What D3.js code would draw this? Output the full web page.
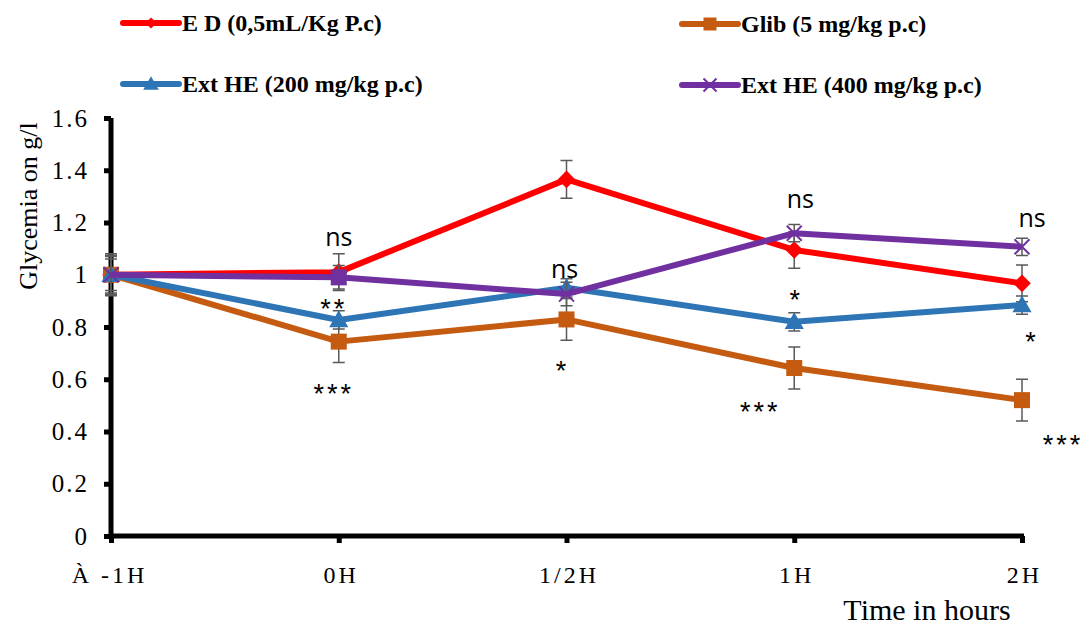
<!DOCTYPE html>
<html><head><meta charset="utf-8">
<script src="https://cdn.jsdelivr.net/npm/d3@7"></script>
<style>body{margin:0;background:#fff}svg{display:block}</style>
</head><body>
<svg id="c" width="1083" height="625"></svg>
<script>
const categories = ["À -1H", "0H", "1/2H", "1H", "2H"];
const yTicks = [0, 0.2, 0.4, 0.6, 0.8, 1, 1.2, 1.4, 1.6];
const seriesNames = ["E D (0,5mL/Kg P.c)", "Glib (5 mg/kg p.c)", "Ext HE (200 mg/kg p.c)", "Ext HE (400 mg/kg p.c)"];
const edValues    = [1.0, 1.01, 1.365, 1.095, 0.967];
const edErrors    = [0.07, 0.07, 0.072, 0.07, 0.07];
const glibValues  = [1.0, 0.744, 0.829, 0.643, 0.52];
const glibErrors  = [0.08, 0.08, 0.08, 0.08, 0.08];
const he200Values = [1.0, 0.827, 0.95, 0.82, 0.884];
const he200Errors = [0.06, 0.035, 0.035, 0.035, 0.035];
const he400Values = [1.0, 0.99, 0.926, 1.159, 1.107];
const he400Errors = [0.075, 0.045, 0.045, 0.033, 0.033];
const he400Shapes = ["x", "square", "x", "x", "x"];
const annoLabels = ["ns", "**", "***", "ns", "*", "ns", "*", "***", "ns", "*", "***"];
const annoCats   = ["0H", "0H", "0H", "1/2H", "1/2H", "1H", "1H", "1H", "2H", "2H", "2H"];
const annoLevels = [1.15, 0.895, 0.57, 1.025, 0.66, 1.295, 0.93, 0.5, 1.22, 0.77, 0.375];
const annoShift  = [0, -5, -5, -2, -4, 6, 2, -34, 10, 10, 41];

const svg = d3.select("#c");
const x = d3.scalePoint().domain(categories).range([111, 1022]).padding(0);
const y = d3.scaleLinear().domain([0, 1.6]).range([536, 118]);
const serif = "'Liberation Serif', 'Times New Roman', serif";

const colors = ["#FF0000", "#C55A11", "#2E75B6", "#7030A0"];
const series = [
  {name: seriesNames[0], values: edValues, errors: edErrors, color: colors[0], shapes: categories.map(() => "diamond")},
  {name: seriesNames[1], values: glibValues, errors: glibErrors, color: colors[1], shapes: categories.map(() => "square")},
  {name: seriesNames[2], values: he200Values, errors: he200Errors, color: colors[2], shapes: categories.map(() => "triangle")},
  {name: seriesNames[3], values: he400Values, errors: he400Errors, color: colors[3], shapes: he400Shapes}
];

function drawMarker(g, shape, cx, cy, color, size) {
  if (shape === "diamond") {
    const s = size * 0.55;
    g.append("path").attr("d", `M${cx},${cy - s}L${cx + s},${cy}L${cx},${cy + s}L${cx - s},${cy}Z`).attr("fill", color);
  } else if (shape === "square") {
    const s = size / 2;
    g.append("rect").attr("x", cx - s).attr("y", cy - s).attr("width", size).attr("height", size).attr("fill", color);
  } else if (shape === "triangle") {
    const s = size * 0.6;
    g.append("path").attr("d", `M${cx},${cy - s}L${cx + s},${cy + s * 0.75}L${cx - s},${cy + s * 0.75}Z`).attr("fill", color);
  } else if (shape === "x") {
    const s = size / 2;
    g.append("path").attr("d", `M${cx - s},${cy - s}L${cx + s},${cy + s}M${cx + s},${cy - s}L${cx - s},${cy + s}`)
      .attr("stroke", color).attr("stroke-width", 2).attr("fill", "none");
  }
}

// axes
const yAxis = d3.axisLeft(y).tickValues(yTicks).tickSize(7).tickFormat(d => d3.format("")(d));
const yg = svg.append("g").attr("transform", "translate(111,0)").call(yAxis);
yg.select(".domain").attr("stroke", "#000").attr("stroke-width", 5).attr("d", `M0,${y(1.6)}V${y(0)}`);
yg.selectAll(".tick line").attr("stroke", "#000").attr("stroke-width", 5);
yg.selectAll(".tick text").attr("x", -22).attr("font-family", serif)
  .attr("font-size", 25).attr("letter-spacing", 2).attr("fill", "#000");

const xAxis = d3.axisBottom(x).tickSize(7);
const xg = svg.append("g").attr("transform", `translate(0,${y(0)})`).call(xAxis);
xg.select(".domain").attr("stroke", "#000").attr("stroke-width", 5).attr("d", `M111,0H${x("2H") + 2}`);
xg.selectAll(".tick line").attr("stroke", "#000").attr("stroke-width", 5);
xg.selectAll(".tick text").attr("y", 30).attr("font-family", serif)
  .attr("font-size", 24).attr("fill", "#000").attr("letter-spacing", 3)
  .attr("dx", (d, i) => i === 0 ? -2 : 2);

// axis titles
svg.append("text").attr("transform", `translate(37,206) rotate(-90)`)
  .attr("text-anchor", "middle").attr("font-family", serif).attr("font-size", 26)
  .text("Glycemia on g/l");
svg.append("text").attr("x", 927).attr("y", 620).attr("text-anchor", "middle")
  .attr("font-family", serif).attr("font-size", 30).text("Time in hours");

// series
const plot = svg.append("g");
const line = d3.line().x(d => x(d.c)).y(d => y(d.v));
series.forEach(s => {
  const g = plot.append("g");
  const pts = categories.map((c, i) => ({c, v: s.values[i], e: s.errors[i], shape: s.shapes[i]}));
  pts.forEach(p => {
    const cx = x(p.c);
    g.append("path").attr("d", `M${cx},${y(p.v + p.e)}V${y(p.v - p.e)}M${cx - 6},${y(p.v + p.e)}H${cx + 6}M${cx - 6},${y(p.v - p.e)}H${cx + 6}`)
      .attr("stroke", "#595959").attr("stroke-width", 1.5).attr("fill", "none");
  });
  g.append("path").datum(pts).attr("d", line).attr("stroke", s.color).attr("stroke-width", 6)
    .attr("fill", "none").attr("stroke-linejoin", "round");
  pts.forEach(p => drawMarker(g, p.shape, x(p.c), y(p.v), s.color, p.shape === "x" ? 15 : 16));
});

// annotations
annoLabels.forEach((t, i) => {
  const isNs = t === "ns";
  svg.append("text").attr("x", x(annoCats[i]) + annoShift[i]).attr("y", y(annoLevels[i]))
    .attr("text-anchor", "middle").attr("dominant-baseline", "central")
    .attr("font-family", isNs ? "'Open Sans', 'Noto Sans', sans-serif" : "'Liberation Sans', sans-serif")
    .attr("font-size", isNs ? 25 : 27).attr("letter-spacing", isNs ? 0 : 3)
    .attr("dy", isNs ? 0 : 7)
    .text(t);
});

// legend
const legendPos = [[123, 23], [682, 24], [123, 84], [682, 85]];
const legendShape = ["diamond", "square", "triangle", "x"];
series.forEach((s, i) => {
  const [lx, ly] = legendPos[i];
  const g = svg.append("g");
  g.append("line").attr("x1", lx).attr("x2", lx + 56).attr("y1", ly).attr("y2", ly)
    .attr("stroke", s.color).attr("stroke-width", 6).attr("stroke-linecap", "round");
  drawMarker(g, legendShape[i], lx + 28, ly, s.color, legendShape[i] === "diamond" ? 10 : 13);
  g.append("text").attr("x", lx + 59).attr("y", ly).attr("dominant-baseline", "central")
    .attr("font-family", serif).attr("font-weight", "bold")
    .attr("font-size", 24).text(s.name);
});
</script>
</body></html>
